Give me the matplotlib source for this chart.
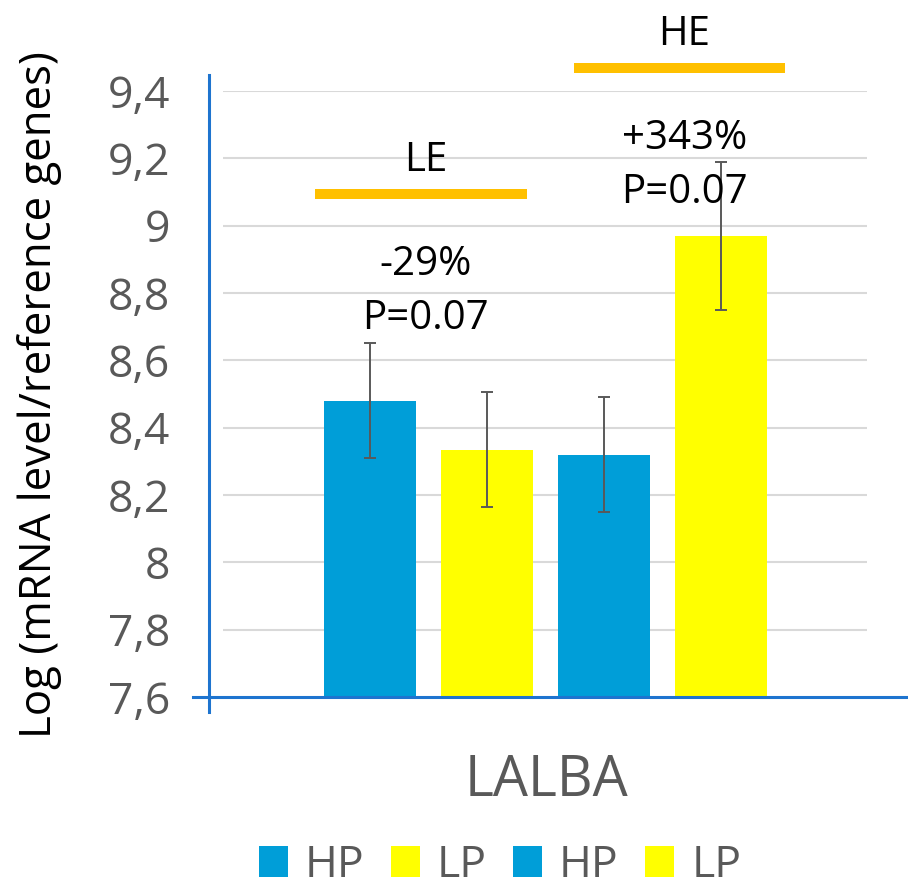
import matplotlib
matplotlib.use("Agg")
import matplotlib.pyplot as plt
from matplotlib.patches import Patch
from matplotlib.ticker import FuncFormatter

# data
groups = ["HP", "LP", "HP", "LP"]
means = [8.48, 8.335, 8.32, 8.97]
errors = [0.17, 0.17, 0.17, 0.22]
bar_x = [-1.5, -0.5, 0.5, 1.5]
yticks = [7.6, 7.8, 8.0, 8.2, 8.4, 8.6, 8.8, 9.0, 9.2, 9.4]
gene = "LALBA"

# comparison brackets: label, x from, x to, y, change, p text
brackets = [
    ("LE", -1.97, -0.16, 9.094, "-29%", "P=0.07"),
    ("HE", 0.24, 2.05, 9.468, "+343%", "P=0.07"),
]

BLUE = "#009ED8"
YELLOW = "#FFFF00"
ORANGE = "#FFC000"
AXBLUE = "#1E74CF"
GRAY = "#595959"
colors = [BLUE, YELLOW, BLUE, YELLOW]

plt.rcParams["font.family"] = ["Open Sans", "DejaVu Sans"]

fig = plt.figure(figsize=(9.08, 8.92), dpi=100)
ax = fig.add_axes([209 / 908, 1 - 697 / 892, 673 / 908, 606 / 892])

ax.set_xlim(-2.876, 2.876)
ax.set_ylim(7.6, 9.4)

# gridlines
ax.hlines(yticks[1:], -2.76, 2.75, color="#D9D9D9", lw=1.5, zorder=0)

ax.bar(bar_x, means, width=0.79, bottom=0, color=colors, zorder=2)
ax.errorbar(bar_x, means, yerr=errors, fmt="none", ecolor=GRAY, elinewidth=1.4,
            capsize=4.5, capthick=1.4, zorder=3)

for lab, x0, x1, y, chg, p in brackets:
    ax.plot([x0, x1], [y, y], color=ORANGE, lw=7.2, solid_capstyle="butt", clip_on=False, zorder=4)
    xc = (x0 + x1) / 2
    ax.text(xc + 0.04, y + 0.1, lab, ha="center", va="center", fontsize=29, color="black", clip_on=False)
    ax.text(xc + 0.04, y - 0.21, chg, ha="center", va="center", fontsize=29, color="black", clip_on=False)
    ax.text(xc + 0.04, y - 0.37, p, ha="center", va="center", fontsize=29, color="black", clip_on=False)

for s in ax.spines.values():
    s.set_visible(False)
ax.axhline(7.6, xmin=-0.024, xmax=1.04, color=AXBLUE, lw=2.2, clip_on=False, zorder=5)
ax.axvline(-2.876, ymin=-0.025, ymax=1.026, color=AXBLUE, lw=2.2, clip_on=False, zorder=5)

ax.set_yticks(yticks)
ax.yaxis.set_major_formatter(FuncFormatter(lambda v, _: ("%g" % round(v, 1)).replace(".", ",")))
ax.tick_params(axis="y", length=0, pad=28, labelsize=32, labelcolor=GRAY)
ax.set_xticks([])

fig.text(40 / 908, 1 - 395 / 892, "Log (mRNA level/reference genes)", rotation=90,
         ha="center", va="center", fontsize=31.5, color="black")
fig.text(546 / 908, 1 - 782 / 892, gene, ha="center", va="center", fontsize=40, color=GRAY)

handles = [Patch(facecolor=c, edgecolor="none") for c in colors]
leg = fig.legend(handles, groups, loc="center", bbox_to_anchor=(500 / 908, 1 - 866 / 892),
                 ncol=4, frameon=False, fontsize=32, handlelength=0.65, handleheight=0.7,
                 handletextpad=0.38, columnspacing=0.6, labelcolor=GRAY)

fig.savefig("out.png", dpi=100)
